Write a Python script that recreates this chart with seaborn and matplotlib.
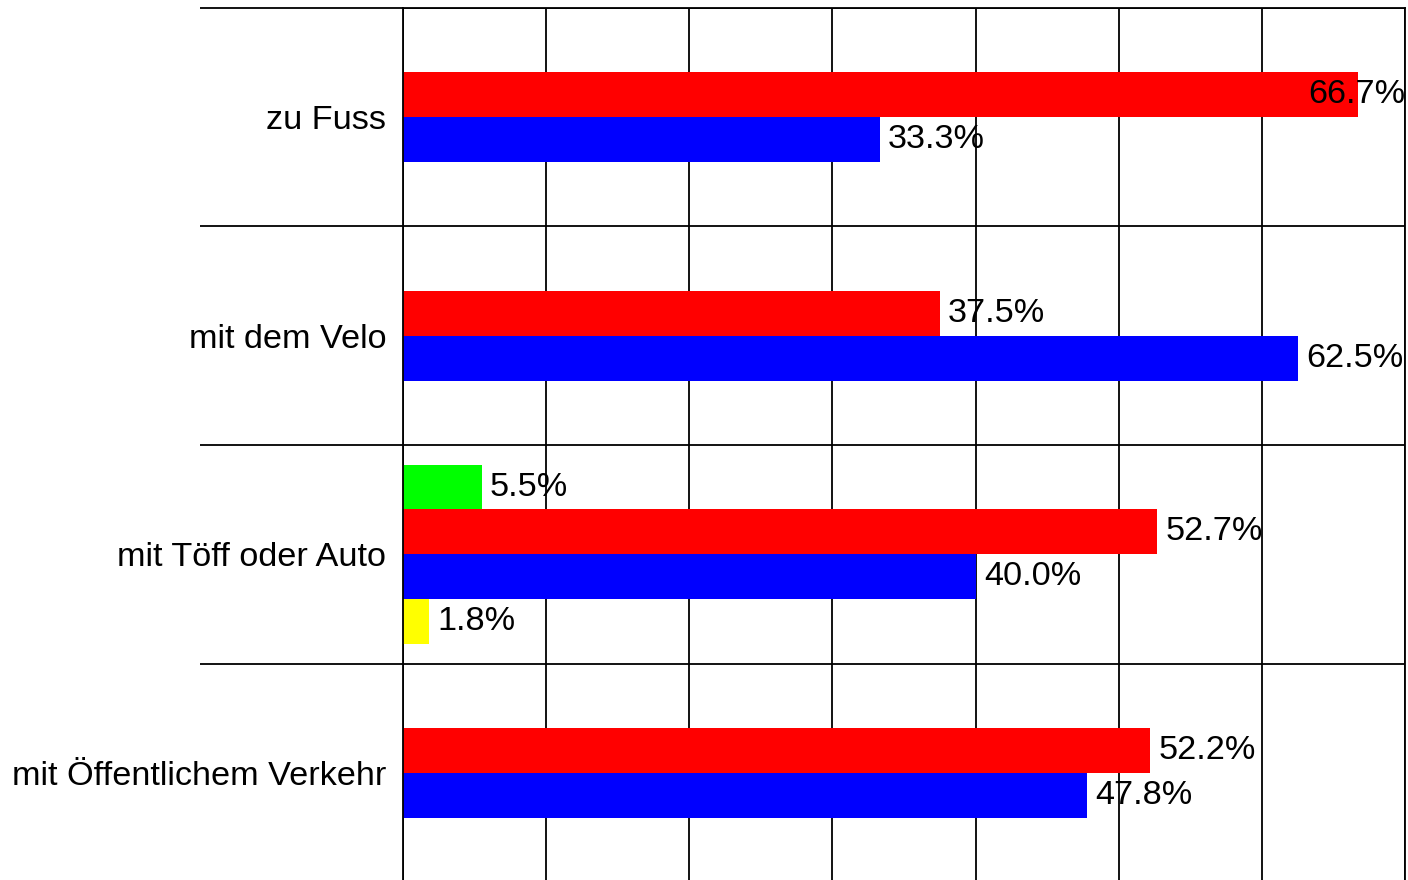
import pandas as pd
import seaborn as sns
import matplotlib.pyplot as plt
from matplotlib.ticker import MultipleLocator, FixedLocator

# Data (percent per category and series)
categories = ["zu Fuss", "mit dem Velo", "mit Töff oder Auto", "mit Öffentlichem Verkehr"]
series = ["Gruppe 1", "Gruppe 2", "Gruppe 3", "Gruppe 4"]
values_g1 = [0.0, 0.0, 5.5, 0.0]
values_g2 = [66.7, 37.5, 52.7, 52.2]
values_g3 = [33.3, 62.5, 40.0, 47.8]
values_g4 = [0.0, 0.0, 1.8, 0.0]
colors = ["#00ff00", "#ff0000", "#0000ff", "#ffff00"]

rows = []
for s, vals in zip(series, [values_g1, values_g2, values_g3, values_g4]):
    for c, v in zip(categories, vals):
        rows.append({"Kategorie": c, "Serie": s, "Wert": v})
df = pd.DataFrame(rows)

sns.set_style("white")
plt.rcParams["font.family"] = ["Liberation Sans", "DejaVu Sans"]
FS = 24.7

fig = plt.figure(figsize=(14.08, 8.8), dpi=100)
ax = fig.add_axes([403 / 1408, -2 / 880, 1002 / 1408, 874 / 880])

sns.barplot(data=df, y="Kategorie", x="Wert", hue="Serie", order=categories,
            hue_order=series, palette=colors, orient="h", width=0.82,
            saturation=1, linewidth=0, legend=False, ax=ax)

ax.set_xlim(0, 70)
ax.set_ylim(len(categories) - 0.5, -0.5)

# value labels, skipping empty bars
xmax = 70
for container in ax.containers:
    for bar in container:
        w = bar.get_width()
        if w <= 0:
            continue
        yc = bar.get_y() + bar.get_height() / 2
        if w > 62.8:
            ax.annotate(f"{w:.1f}%", (xmax, yc), xytext=(0, 0), textcoords="offset points",
                        ha="right", va="center", fontsize=FS, color="black")
        else:
            ax.annotate(f"{w:.1f}%", (w, yc), xytext=(6, 0), textcoords="offset points",
                        ha="left", va="center", fontsize=FS, color="black")

# grid: vertical lines every 10 %, horizontal lines between categories
ax.xaxis.set_major_locator(MultipleLocator(10))
ax.grid(axis="x", which="major", color="black", linewidth=1.3)
ax.yaxis.set_minor_locator(FixedLocator([i - 0.5 for i in range(len(categories) + 1)]))
ax.grid(axis="y", which="minor", color="black", linewidth=1.3)
ax.grid(axis="y", which="major", visible=False)
ax.set_axisbelow(True)

ax.tick_params(axis="y", which="minor", left=True, length=146, width=1.3,
               color="black", direction="out")
ax.tick_params(axis="y", which="major", left=True, length=0, pad=12,
               labelsize=FS, labelcolor="black")
ax.tick_params(axis="x", length=0, labelbottom=False)

for sp in ax.spines.values():
    sp.set_color("black")
    sp.set_linewidth(1.3)

ax.set_xlabel("")
ax.set_ylabel("")

plt.savefig("out.png", dpi=100)
